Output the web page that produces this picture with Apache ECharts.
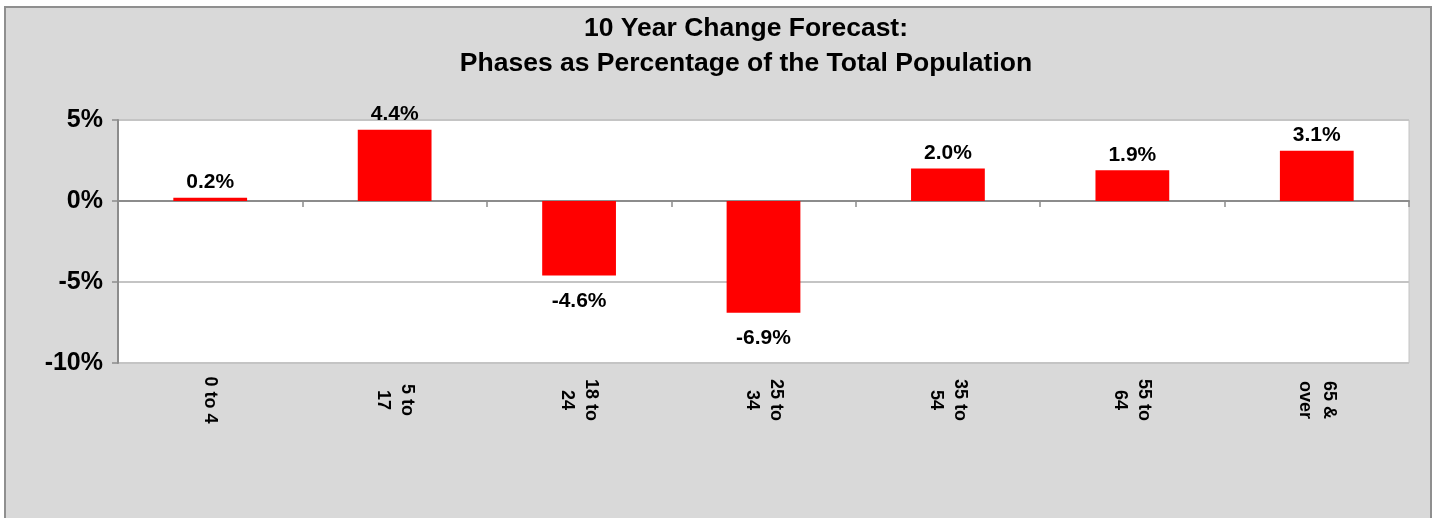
<!DOCTYPE html>
<html>
<head>
<meta charset="utf-8">
<script src="https://cdn.jsdelivr.net/npm/echarts@6/dist/echarts.min.js"></script>
<style>
  html, body { margin: 0; padding: 0; background: #fff; }
  #frame {
    position: absolute; left: 4px; top: 6px; width: 1424px; height: 530px;
    background: #d9d9d9; border: 2px solid #8f8f8f;
  }
  #chart { position: absolute; left: 0; top: 0; width: 1440px; height: 518px; }
</style>
</head>
<body>
<div id="frame"></div>
<div id="chart"></div>
<script>
// 年龄段 & 十年变化（占总人口百分比）
const categories = ['0 to 4', '5 to\n17', '18 to\n24', '25 to\n34', '35 to\n54', '55 to\n64', '65 &\nover']
const changes = [0.2, 4.4, -4.6, -6.9, 2.0, 1.9, 3.1]
const yTicks = { min: -10, max: 5, interval: 5 }

const FONT = '"Liberation Sans", Arial, sans-serif'

const chart = echarts.init(document.getElementById('chart'))

const option = {
  backgroundColor: 'transparent',
  animation: false,
  title: {
    text: '10 Year Change Forecast:\nPhases as Percentage of the Total Population',
    left: 741,
    textAlign: 'center',
    top: 6,
    textStyle: {
      fontFamily: FONT,
      fontSize: 26.5,
      fontWeight: 'bold',
      lineHeight: 35,
      color: '#000',
    },
  },
  grid: {
    left: 118,
    right: 31,
    top: 120,
    bottom: 155,
    show: true,
    backgroundColor: '#fff',
    borderColor: '#c4c4c4',
    borderWidth: 1,
  },
  xAxis: [
    {
      type: 'category',
      data: categories,
      position: 'bottom',
      axisLine: { onZero: true, lineStyle: { color: '#8c8c8c', width: 2 } },
      axisTick: { show: true, length: 6, lineStyle: { color: '#8c8c8c', width: 1.5 } },
      axisLabel: { show: false },
    },
    {
      type: 'category',
      data: categories,
      position: 'bottom',
      axisLine: { show: false, onZero: false },
      axisTick: { show: false },
      axisLabel: {
        rotate: -90,
        align: 'center',
        margin: 37,
        fontFamily: FONT,
        fontSize: 18,
        fontWeight: 'bold',
        lineHeight: 24,
        color: '#000',
      },
    },
  ],
  yAxis: {
    type: 'value',
    min: yTicks.min,
    max: yTicks.max,
    interval: yTicks.interval,
    axisLine: { show: true, lineStyle: { color: '#8c8c8c', width: 2 } },
    axisTick: { show: true, length: 6, lineStyle: { color: '#8c8c8c', width: 1.5 } },
    axisLabel: {
      formatter: '{value}%',
      margin: 15,
      fontFamily: FONT,
      fontSize: 25,
      fontWeight: 'bold',
      color: '#000',
    },
    splitLine: { lineStyle: { color: '#c4c4c4', width: 2 } },
  },
  series: [
    {
      type: 'bar',
      xAxisIndex: 0,
      barWidth: '40%',
      itemStyle: { color: '#ff0000' },
      data: changes.map((v) => ({
        value: v,
        label: {
          position: v >= 0 ? 'top' : 'bottom',
          distance: v >= 0 ? 5 : 15,
        },
      })),
      label: {
        show: true,
        formatter: (p) => p.value.toFixed(1) + '%',
        fontFamily: FONT,
        fontSize: 21,
        fontWeight: 'bold',
        color: '#000',
      },
    },
  ],
}

chart.setOption(option)
</script>
</body>
</html>
